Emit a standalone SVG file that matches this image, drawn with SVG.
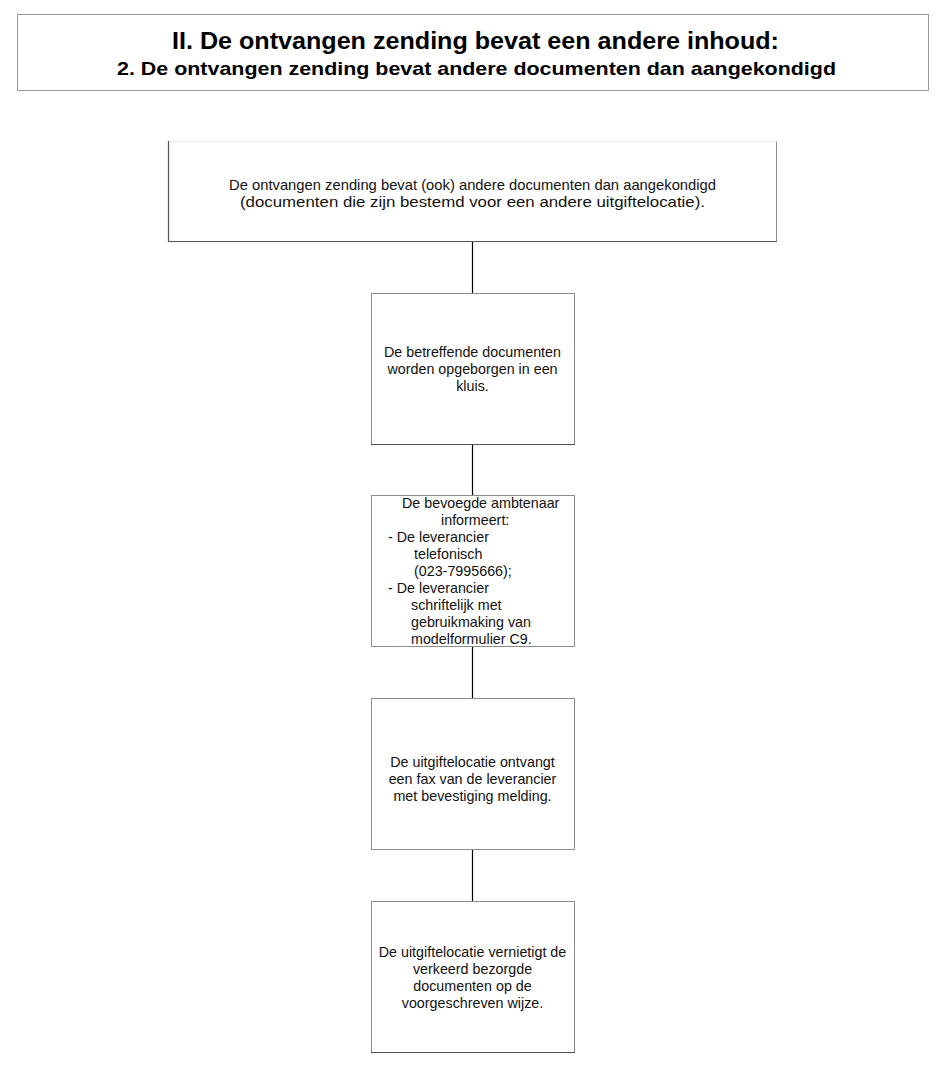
<svg xmlns="http://www.w3.org/2000/svg" width="944" height="1066" viewBox="0 0 944 1066">
<style>
.bg{fill:#fff}
.box{fill:#fff;stroke:#8c8c8c;stroke-width:1}
.dk{stroke:#555;stroke-width:1.2}
.t{font-family:"Liberation Sans",Arial,sans-serif;font-size:14.3px;fill:#111}
.c{text-anchor:middle}
.h1{font-family:"Liberation Sans",Arial,sans-serif;font-weight:bold;font-size:24px;fill:#000;text-anchor:middle}
.h2{font-family:"Liberation Sans",Arial,sans-serif;font-weight:bold;font-size:19px;fill:#000;text-anchor:middle}
.conn line{stroke:#000;stroke-width:1.2}
</style>
<rect class="bg" x="0" y="0" width="944" height="1066"/>
<g id="title">
<rect x="17.5" y="14.5" width="911" height="76" fill="#fff" stroke="#999"/>
<text class="h1" x="475.5" y="49" textLength="607" lengthAdjust="spacingAndGlyphs">II. De ontvangen zending bevat een andere inhoud:</text>
<text class="h2" x="476.5" y="75" textLength="719" lengthAdjust="spacingAndGlyphs">2. De ontvangen zending bevat andere documenten dan aangekondigd</text>
</g>
<g class="conn" id="connectors">
<line x1="472.5" y1="242" x2="472.5" y2="293"/>
<line x1="472.5" y1="445" x2="472.5" y2="495"/>
<line x1="472.5" y1="647" x2="472.5" y2="698"/>
<line x1="472.5" y1="850" x2="472.5" y2="901"/>
</g>
<g id="n1">
<rect class="box" x="168.5" y="141.5" width="608" height="100" stroke="#777"/>
<line x1="168.5" y1="141.5" x2="776.5" y2="141.5" stroke="#eee"/>
<line class="dk" x1="168.5" y1="141" x2="168.5" y2="242"/>
<line class="dk" x1="168" y1="241.5" x2="777" y2="241.5"/>
<text class="t c" x="472.5" y="190" textLength="487" lengthAdjust="spacingAndGlyphs">De ontvangen zending bevat (ook) andere documenten dan aangekondigd</text>
<text class="t c" x="472.5" y="207" textLength="465" lengthAdjust="spacingAndGlyphs">(documenten die zijn bestemd voor een andere uitgiftelocatie).</text>
</g>
<g id="n2">
<rect class="box" x="371.5" y="293.5" width="203" height="151"/>
<line class="dk" x1="371" y1="444.5" x2="575" y2="444.5"/>
<text class="t c" x="472.5" y="357">De betreffende documenten</text>
<text class="t c" x="472.5" y="374">worden opgeborgen in een</text>
<text class="t c" x="472.5" y="391">kluis.</text>
</g>
<g id="n3">
<rect class="box" x="371.5" y="495.5" width="203" height="151"/>
<text class="t" x="402" y="508">De bevoegde ambtenaar</text>
<text class="t" x="441" y="525">informeert:</text>
<text class="t" x="388" y="542">- De leverancier</text>
<text class="t" x="414" y="559">telefonisch</text>
<text class="t" x="414" y="576">(023-7995666);</text>
<text class="t" x="388" y="593">- De leverancier</text>
<text class="t" x="411" y="610">schriftelijk met</text>
<text class="t" x="411" y="627">gebruikmaking van</text>
<text class="t" x="411" y="644">modelformulier C9.</text>
</g>
<g id="n4">
<rect class="box" x="371.5" y="698.5" width="203" height="151"/>
<text class="t c" x="472.5" y="767">De uitgiftelocatie ontvangt</text>
<text class="t c" x="472.5" y="784">een fax van de leverancier</text>
<text class="t c" x="472.5" y="801">met bevestiging melding.</text>
</g>
<g id="n5">
<rect class="box" x="371.5" y="901.5" width="203" height="151"/>
<line class="dk" x1="371" y1="1052.5" x2="575" y2="1052.5"/>
<text class="t c" x="472.5" y="957">De uitgiftelocatie vernietigt de</text>
<text class="t c" x="472.5" y="974">verkeerd bezorgde</text>
<text class="t c" x="472.5" y="991">documenten op de</text>
<text class="t c" x="472.5" y="1008">voorgeschreven wijze.</text>
</g>
</svg>
